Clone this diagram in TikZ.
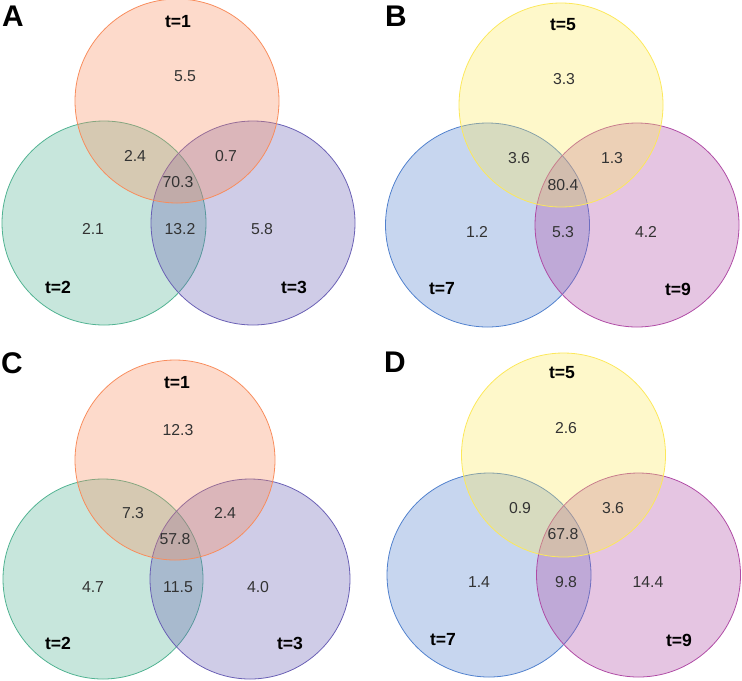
\documentclass[tikz,border=0pt]{standalone}
\usepackage{fontspec}
\setmainfont{Liberation Sans}
\definecolor{tone}{RGB}{248,140,92}
\definecolor{ttwo}{RGB}{80,178,145}
\definecolor{tthree}{RGB}{105,95,180}
\definecolor{tfive}{RGB}{252,232,90}
\definecolor{tseven}{RGB}{80,128,205}
\definecolor{tnine}{RGB}{175,75,165}
\newcommand{\setcircle}[3]{\draw[#3,fill=#3,fill opacity=0.32,line width=0.45pt] (#1) circle (#2);}
\tikzset{
  count/.style={text=black!80,font=\fontsize{9}{10}\selectfont},
  setlabel/.style={font=\bfseries\fontsize{10}{11}\selectfont},
  panel/.style={font=\bfseries\fontsize{17}{19}\selectfont}
}

\begin{document}
\begin{tikzpicture}[x=0.02cm,y=-0.02cm]
\useasboundingbox (0,0) rectangle (742,680);
% A
\setcircle{104,223}{102}{ttwo}
\setcircle{253,223}{102}{tthree}
\setcircle{177,101}{102}{tone}
\node[panel] (pA) at (13,16) {A};
\node[setlabel] (a1) at (178,22) {t=1};
\node[setlabel] (a2) at (58,287) {t=2};
\node[setlabel] (a3) at (294,287) {t=3};
\node[count] (a100) at (185,76) {5.5};
\node[count] (a120) at (135,156) {2.4};
\node[count] (a103) at (226,156) {0.7};
\node[count] (a123) at (178,182) {70.3};
\node[count] (a020) at (93,229) {2.1};
\node[count] (a023) at (180,229) {13.2};
\node[count] (a003) at (262,229) {5.8};
% B
\setcircle{487.5,225}{102}{tseven}
\setcircle{637,225}{102}{tnine}
\setcircle{561,105}{102}{tfive}
\node[panel] (pB) at (396,16) {B};
\node[setlabel] (b5) at (563,25) {t=5};
\node[setlabel] (b7) at (442,289) {t=7};
\node[setlabel] (b9) at (678,289) {t=9};
\node[count] (b500) at (564,79) {3.3};
\node[count] (b570) at (519,158) {3.6};
\node[count] (b509) at (612,158) {1.3};
\node[count] (b579) at (563,185) {80.4};
\node[count] (b070) at (477,232) {1.2};
\node[count] (b079) at (563,232) {5.3};
\node[count] (b009) at (646,232) {4.2};
% C
\setcircle{103,579}{100}{ttwo}
\setcircle{250,579}{100}{tthree}
\setcircle{175,460}{100}{tone}
\node[panel] (pC) at (12,363) {C};
\node[setlabel] (c1) at (177,383) {t=1};
\node[setlabel] (c2) at (58,643) {t=2};
\node[setlabel] (c3) at (290,643) {t=3};
\node[count] (c100) at (178,430) {12.3};
\node[count] (c120) at (133,513) {7.3};
\node[count] (c103) at (225,513) {2.4};
\node[count] (c123) at (175,539) {57.8};
\node[count] (c020) at (93,587) {4.7};
\node[count] (c023) at (178,587) {11.5};
\node[count] (c003) at (258,587) {4.0};
% D
\setcircle{489,575}{102}{tseven}
\setcircle{638.5,575}{102}{tnine}
\setcircle{563.5,455}{102}{tfive}
\node[panel] (pD) at (395,362) {D};
\node[setlabel] (d5) at (562,373) {t=5};
\node[setlabel] (d7) at (443,640) {t=7};
\node[setlabel] (d9) at (679,640) {t=9};
\node[count] (d500) at (566,428) {2.6};
\node[count] (d570) at (520,508) {0.9};
\node[count] (d509) at (613,508) {3.6};
\node[count] (d579) at (563,534) {67.8};
\node[count] (d070) at (479,582) {1.4};
\node[count] (d079) at (566,582) {9.8};
\node[count] (d009) at (648,582) {14.4};
\end{tikzpicture}
\end{document}
